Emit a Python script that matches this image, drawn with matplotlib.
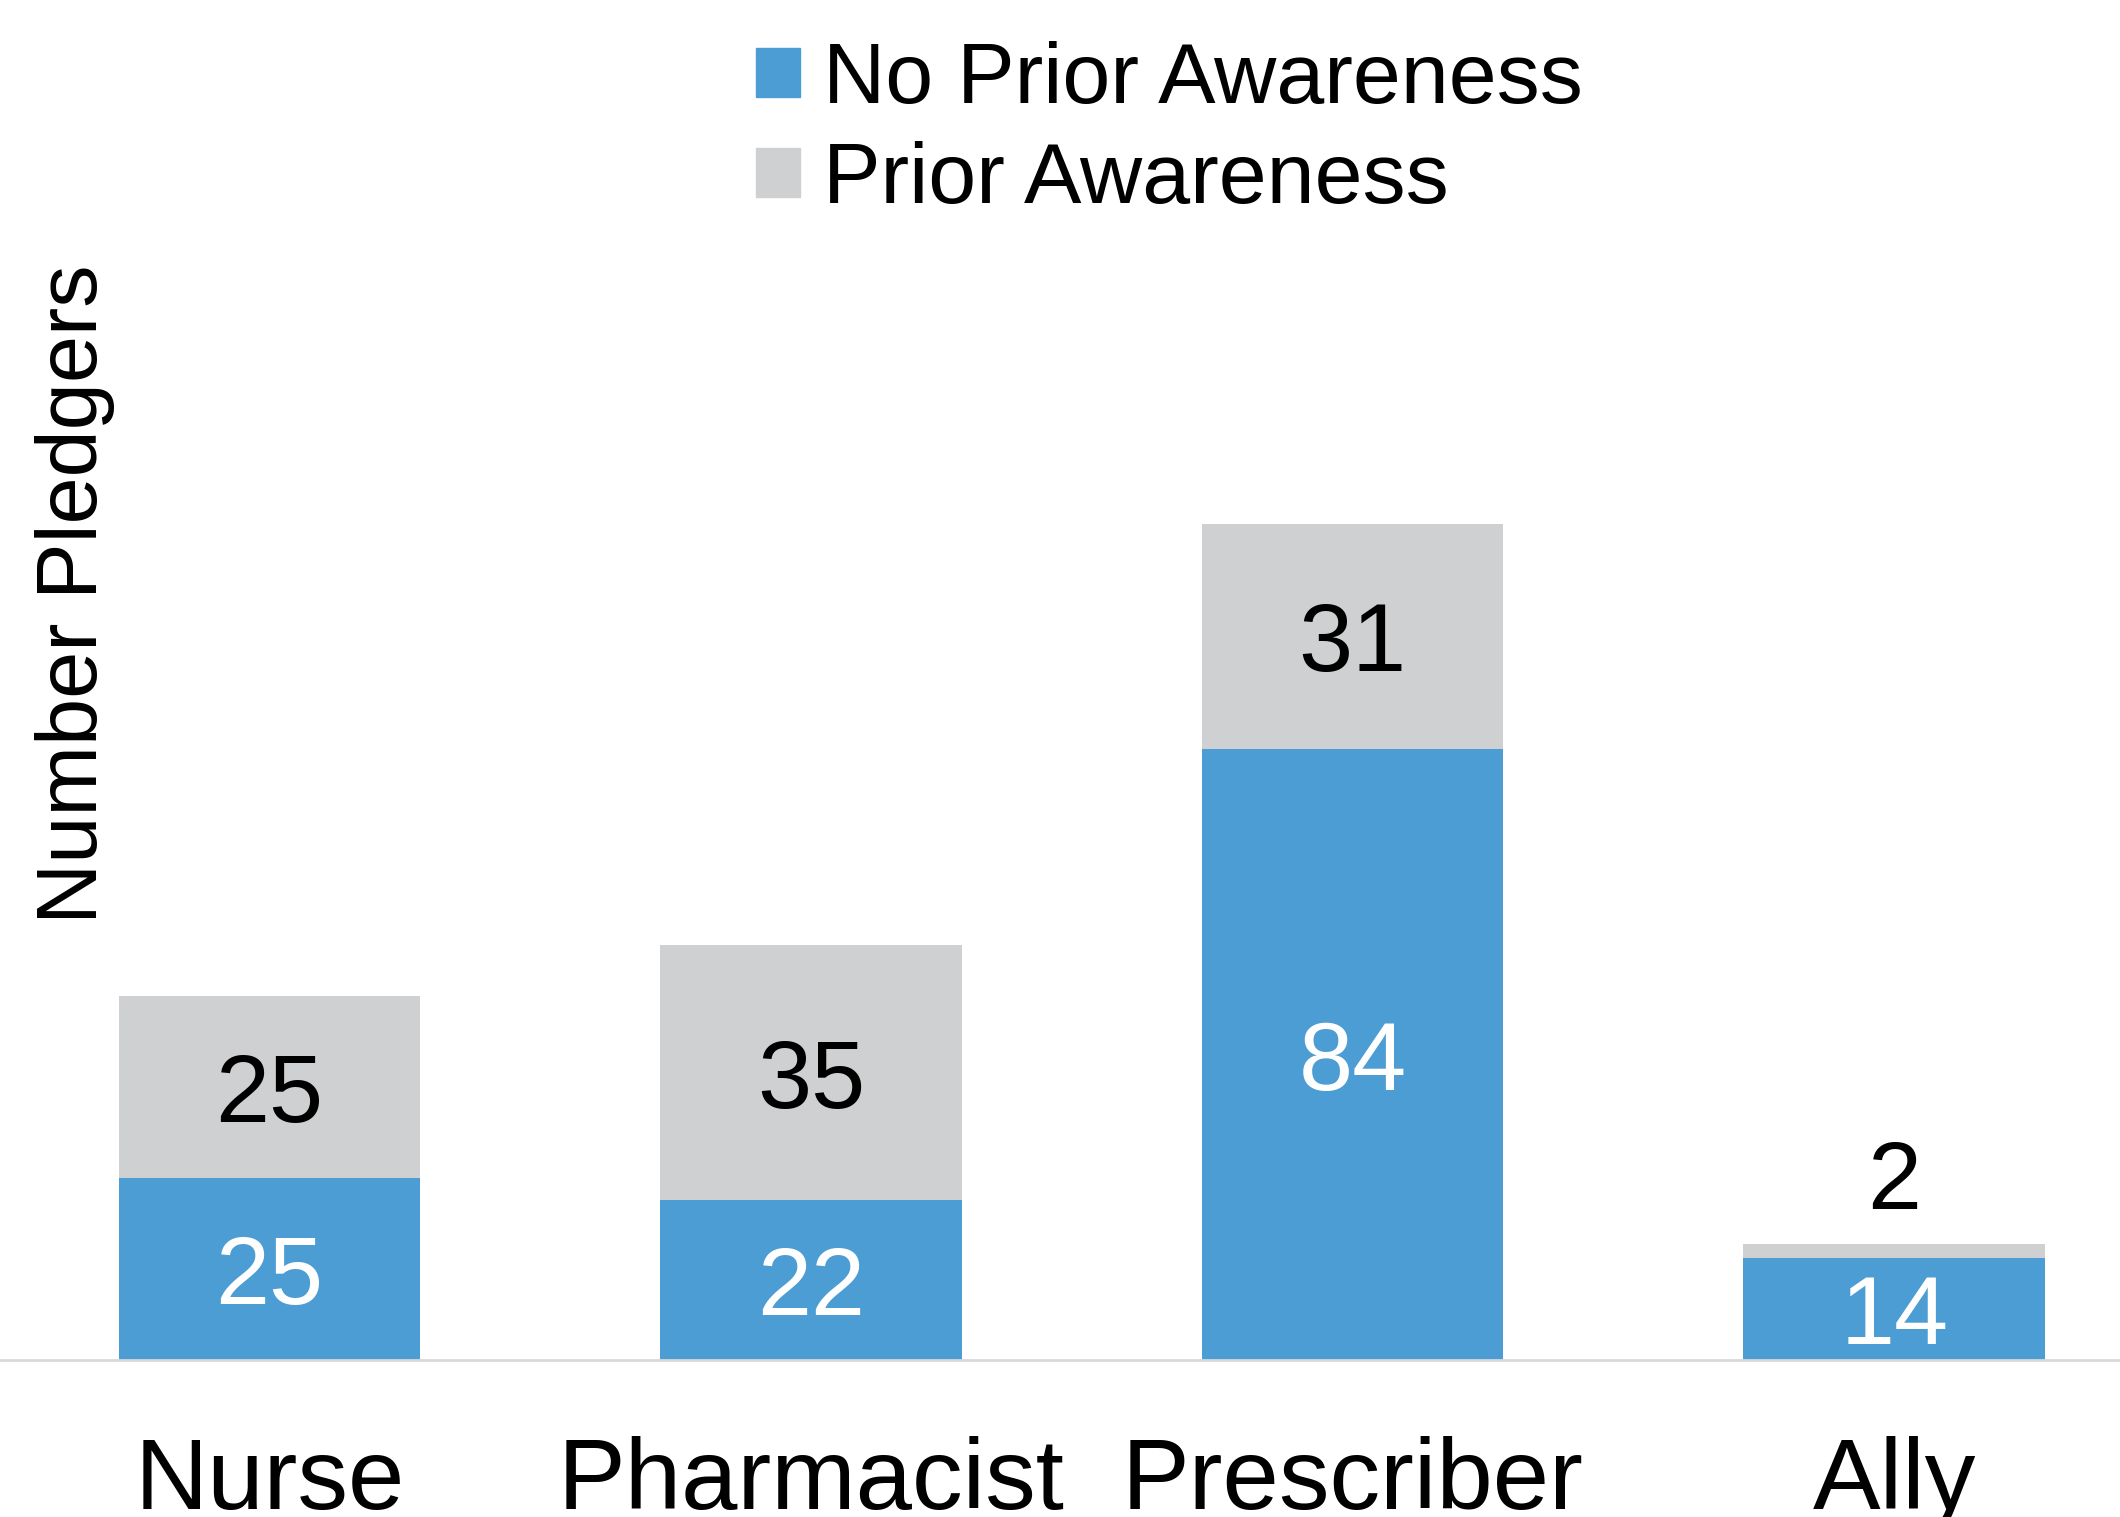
import matplotlib
matplotlib.use('Agg')
import matplotlib.pyplot as plt
import matplotlib.patches as mpatches
import numpy as np

# ── 데이터 ───────────────────────────────────────────────────────────────
categories = ['Nurse', 'Pharmacist', 'Prescriber', 'Ally']
no_prior = [25, 22, 84, 14]
prior = [25, 35, 31, 2]

BLUE = '#4C9DD3'
GRAY = '#CFD0D2'

plt.rcParams['font.family'] = ['Liberation Sans', 'DejaVu Sans']

fig = plt.figure(figsize=(21.2, 15.17), dpi=100)
ax = fig.add_axes([0.0, 0.1035, 1.0, 0.8965])

x = np.arange(len(categories))
w = 0.557
ax.bar(x, no_prior, w, color=BLUE, label='No Prior Awareness')
ax.bar(x, prior, w, bottom=no_prior, color=GRAY, label='Prior Awareness')

# 값 라벨
for i in range(len(categories)):
    ax.text(x[i], no_prior[i] / 2, str(no_prior[i]), ha='center',
            va='center_baseline', color='white', fontsize=70)
    top = no_prior[i] + prior[i]
    if prior[i] >= 10:
        ax.text(x[i], no_prior[i] + prior[i] / 2, str(prior[i]), ha='center',
                va='center_baseline', color='black', fontsize=70)
    else:
        # 작은 구간은 막대 위에 표시
        ax.annotate(str(prior[i]), (x[i], top), xytext=(0, 50),
                    textcoords='offset points', ha='center',
                    va='center_baseline', color='black', fontsize=70)

ax.set_xlim(-0.498, 3.417)
ax.set_ylim(0, 187)
ax.set_xticks(x)
ax.set_xticklabels(categories, fontsize=73)
ax.tick_params(axis='x', length=0, pad=55)
ax.set_yticks([])
for s in ['top', 'right', 'left']:
    ax.spines[s].set_visible(False)
ax.spines['bottom'].set_color('#D9D9D9')
ax.spines['bottom'].set_linewidth(2)

ax.set_ylabel('Number Pledgers', fontsize=61, va='center')
ax.yaxis.set_label_coords(0.0355, 0.563)

handles = [mpatches.Patch(color=BLUE, label='No Prior Awareness'),
           mpatches.Patch(color=GRAY, label='Prior Awareness')]
fig.legend(handles=handles, loc='upper left', bbox_to_anchor=(0.3487, 0.984),
           frameon=False, fontsize=62, handlelength=0.5, handleheight=0.5,
           handletextpad=0.27, labelspacing=0.23, borderpad=0.2, borderaxespad=0)

fig.savefig('out.png', dpi=100)
